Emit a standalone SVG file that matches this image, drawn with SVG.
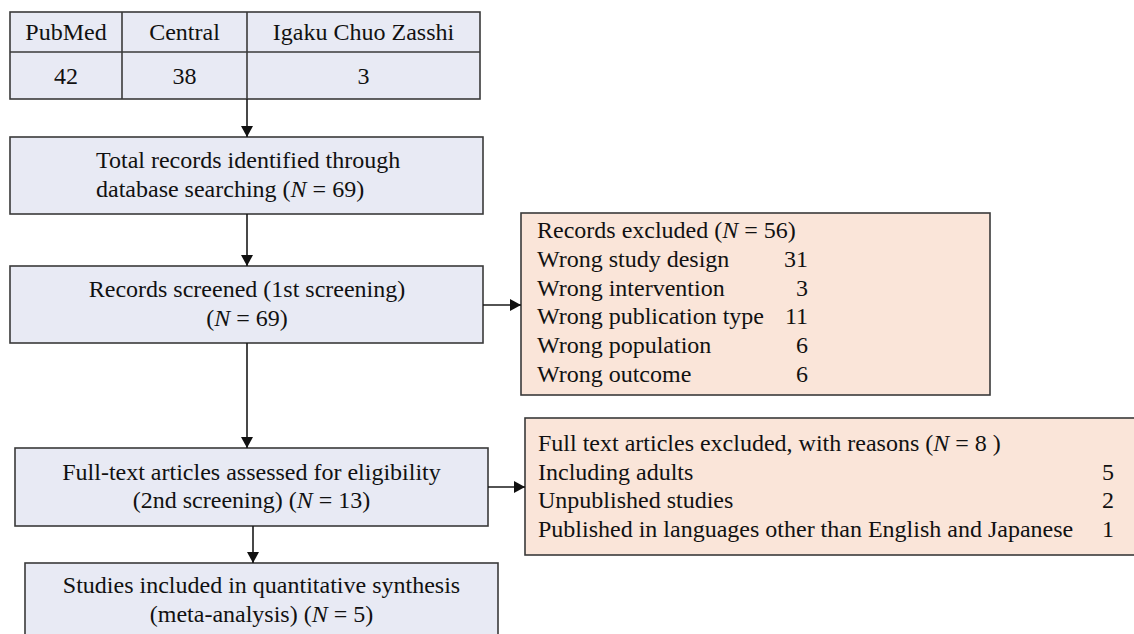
<svg xmlns="http://www.w3.org/2000/svg" width="1134" height="634" viewBox="0 0 1134 634">
<style>
  .box { fill: #e8eaf4; stroke: #3a3a3a; stroke-width: 1.6; }
  .exc { fill: #fae5d9; stroke: #3a3a3a; stroke-width: 1.6; }
  .grid { stroke: #3a3a3a; stroke-width: 1.6; fill: none; }
  .t { font-family: "Liberation Serif", "Times New Roman", serif; font-size: 24px; fill: #111; }
  .c { text-anchor: middle; }
  .e { text-anchor: end; }
  .i { font-style: italic; }
  .conn { stroke: #1a1a1a; stroke-width: 1.6; fill: none; }
</style>
<defs>
  <marker id="ah" markerUnits="userSpaceOnUse" markerWidth="12" markerHeight="12" refX="11" refY="6" orient="auto">
    <path d="M0,0 L11,6 L0,12 z" fill="#111"/>
  </marker>
</defs>
<rect width="1134" height="634" fill="#fff"/>

<g id="databases">
  <rect x="10" y="12" width="470" height="87" class="box"/>
  <line x1="10" y1="52" x2="480" y2="52" class="grid"/>
  <line x1="122" y1="12" x2="122" y2="99" class="grid"/>
  <line x1="247" y1="12" x2="247" y2="99" class="grid"/>
  <text x="66" y="40" class="t c">PubMed</text>
  <text x="184.5" y="40" class="t c">Central</text>
  <text x="363.5" y="40" class="t c">Igaku Chuo Zasshi</text>
  <text x="66" y="84" class="t c">42</text>
  <text x="184.5" y="84" class="t c">38</text>
  <text x="363.5" y="84" class="t c">3</text>
</g>

<g id="identified">
  <rect x="10" y="137" width="473" height="77" class="box"/>
  <text x="96" y="168" class="t">Total records identified through</text>
  <text x="96" y="197" class="t">database searching (<tspan class="i">N</tspan> = 69)</text>
</g>

<g id="screened">
  <rect x="10" y="266" width="473" height="77" class="box"/>
  <text x="247" y="297" class="t c">Records screened (1st screening)</text>
  <text x="247" y="326" class="t c">(<tspan class="i">N</tspan> = 69)</text>
</g>

<g id="excluded1">
  <rect x="521" y="213" width="469" height="182" class="exc"/>
  <text x="537" y="238" class="t">Records excluded (<tspan class="i">N</tspan> = 56)</text>
  <text x="537" y="267" class="t">Wrong study design</text>
  <text x="537" y="296" class="t">Wrong intervention</text>
  <text x="537" y="324" class="t">Wrong publication type</text>
  <text x="537" y="353" class="t">Wrong population</text>
  <text x="537" y="382" class="t">Wrong outcome</text>
  <text x="808" y="267" class="t e">31</text>
  <text x="808" y="296" class="t e">3</text>
  <text x="808" y="324" class="t e">11</text>
  <text x="808" y="353" class="t e">6</text>
  <text x="808" y="382" class="t e">6</text>
</g>

<g id="fulltext">
  <rect x="15" y="448" width="473" height="78" class="box"/>
  <text x="251.5" y="480" class="t c">Full-text articles assessed for eligibility</text>
  <text x="251.5" y="508" class="t c">(2nd screening) (<tspan class="i">N</tspan> = 13)</text>
</g>

<g id="excluded2">
  <rect x="525" y="418" width="620" height="137" class="exc"/>
  <text x="538" y="451" class="t">Full text articles excluded, with reasons (<tspan class="i">N</tspan> = 8 )</text>
  <text x="538" y="480" class="t">Including adults</text>
  <text x="538" y="508" class="t">Unpublished studies</text>
  <text x="538" y="537" class="t">Published in languages other than English and Japanese</text>
  <text x="1114" y="480" class="t e">5</text>
  <text x="1114" y="508" class="t e">2</text>
  <text x="1114" y="537" class="t e">1</text>
</g>

<g id="included">
  <rect x="25" y="563" width="473" height="80" class="box"/>
  <text x="261.5" y="593" class="t c">Studies included in quantitative synthesis</text>
  <text x="261.5" y="622" class="t c">(meta-analysis) (<tspan class="i">N</tspan> = 5)</text>
</g>

<g id="connectors">
  <line x1="247" y1="99" x2="247" y2="137" class="conn" marker-end="url(#ah)"/>
  <line x1="247" y1="214" x2="247" y2="266" class="conn" marker-end="url(#ah)"/>
  <line x1="483" y1="305" x2="521" y2="305" class="conn" marker-end="url(#ah)"/>
  <line x1="247" y1="343" x2="247" y2="448" class="conn" marker-end="url(#ah)"/>
  <line x1="488" y1="487" x2="525" y2="487" class="conn" marker-end="url(#ah)"/>
  <line x1="253" y1="526" x2="253" y2="563" class="conn" marker-end="url(#ah)"/>
</g>
</svg>
